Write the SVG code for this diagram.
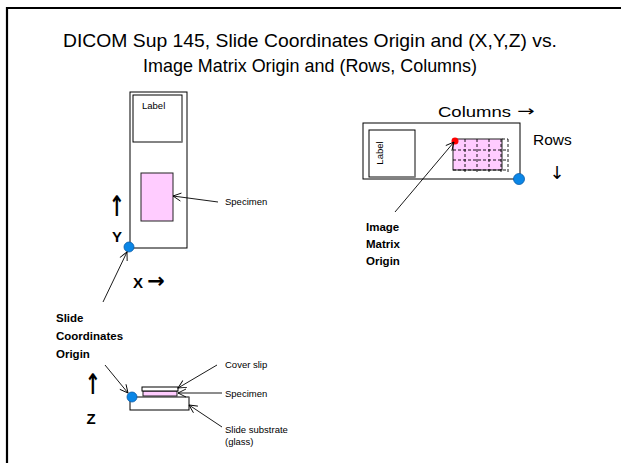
<svg xmlns="http://www.w3.org/2000/svg" width="621" height="463" viewBox="0 0 621 463">
<defs>
<marker id="open" markerWidth="10" markerHeight="10" refX="9" refY="5" orient="auto" markerUnits="userSpaceOnUse">
<path d="M1,1 L9,5 L1,9" fill="none" stroke="#000" stroke-width="0.9"/>
</marker>
<style>
.t{font-family:"Liberation Sans",Arial,sans-serif;fill:#000}
.ar{font-family:"DejaVu Sans",sans-serif;fill:#000}
.s{font-size:9.5px}
.b{font-size:11.5px;font-weight:bold}
.ax{font-size:15px;font-weight:bold}
.r{font-size:15.5px}
.ti{font-family:"Liberation Sans",Arial,sans-serif;font-size:18.5px;fill:#000}
.box{fill:#fff;stroke:#000;stroke-width:1}
.pink{fill:#ffccff;stroke:#222;stroke-width:1}
.dot{fill:#0a86e6;stroke:#0a5ca8;stroke-width:0.8}
.dash{stroke:#000;stroke-width:0.9;stroke-dasharray:3,2;fill:none}
.con{stroke:#000;stroke-width:0.9;fill:none;marker-end:url(#open)}
</style>
</defs>
<rect x="0" y="0" width="621" height="463" fill="#fff"/>
<path d="M7,463 L7,8 L621,8" fill="none" stroke="#000" stroke-width="2.2"/>
<g id="title">
<text class="ti" x="310" y="47" text-anchor="middle" textLength="494" lengthAdjust="spacingAndGlyphs">DICOM Sup 145, Slide Coordinates Origin and (X,Y,Z) vs.</text>
<text class="ti" x="310" y="72" text-anchor="middle" textLength="334" lengthAdjust="spacingAndGlyphs">Image Matrix Origin and (Rows, Columns)</text>
</g>
<g id="slide-top">
<rect class="box" x="130" y="92" width="57" height="156"/>
<rect x="133" y="95" width="49" height="47" fill="#fff" stroke="#000" stroke-width="1"/>
<path d="M182,96 L182,142 L134,142" fill="none" stroke="#888" stroke-width="1.2"/>
<text class="t s" x="142" y="109">Label</text>
<rect class="pink" x="141" y="173" width="32" height="48"/>
</g>
<g id="slide-origin">
<circle class="dot" cx="129" cy="247" r="5"/>
</g>
<g id="y-axis">
<text class="ar" x="0" y="0" text-anchor="middle" font-size="19" font-weight="bold" transform="translate(117,216) scale(1,1.5)">↑</text>
<text class="t ax" x="117" y="242" text-anchor="middle">Y</text>
</g>
<g id="x-axis">
<text class="t ax" x="133" y="288">X <tspan class="ar" font-size="21" font-weight="bold">→</tspan></text>
</g>
<g id="specimen-label">
<text class="t s" x="225" y="205">Specimen</text>
</g>
<g id="slide-origin-label">
<text class="t b" x="56" y="322">Slide</text>
<text class="t b" x="56" y="340">Coordinates</text>
<text class="t b" x="56" y="358">Origin</text>
</g>
<g id="cross-section">
<rect class="box" x="130" y="397" width="59" height="13"/>
<path d="M130,397 L189,397" stroke="#888" stroke-width="1.2"/>
<rect class="pink" x="143" y="391" width="34" height="5"/>
<rect class="box" x="142" y="387" width="36" height="4"/>
<circle class="dot" cx="132" cy="397" r="5"/>
</g>
<g id="z-axis">
<text class="ar" x="0" y="0" text-anchor="middle" font-size="19" font-weight="bold" transform="translate(93,394) scale(1,1.5)">↑</text>
<text class="t ax" x="91" y="424" text-anchor="middle">Z</text>
</g>
<g id="cross-labels">
<text class="t s" x="225" y="368">Cover slip</text>
<text class="t s" x="225" y="397">Specimen</text>
<text class="t s" x="225" y="433">Slide substrate</text>
<text class="t s" x="225" y="445">(glass)</text>
</g>
<g id="slide-right">
<rect class="box" x="363" y="123" width="157" height="56"/>
<rect x="369" y="130" width="46" height="47" fill="#fff" stroke="#000" stroke-width="1"/>
<path d="M415,131 L415,177 L370,177" fill="none" stroke="#888" stroke-width="1.2"/>
<text class="t s" x="0" y="0" text-anchor="middle" transform="translate(383,153) rotate(-90)">Label</text>
<rect class="pink" x="453" y="139" width="49" height="31" stroke-width="1.3"/>
<g class="dash">
<path d="M453,150 L508,150 M453,160 L508,160 M453,170 L508,170"/>
<path d="M465,139 L465,174 M477,139 L477,174 M489,139 L489,174 M501,139 L501,174 M508,139 L508,174"/>
<path d="M502,139 L508,139"/>
</g>
<circle cx="455" cy="141" r="3.5" fill="#ff0000"/>
<circle class="dot" cx="519" cy="179" r="5.5"/>
</g>
<g id="cols-rows">
<text class="t r" x="438" y="117" textLength="73" lengthAdjust="spacingAndGlyphs">Columns</text>
<text class="ar" x="0" y="0" font-size="15" transform="translate(517,116) scale(1.4,1)">→</text>
<text class="t r" x="533" y="145">Rows</text>
<text class="ar" x="557" y="179" text-anchor="middle" font-size="18">↓</text>
</g>
<g id="image-origin-label">
<text class="t b" x="366" y="231">Image</text>
<text class="t b" x="366" y="248">Matrix</text>
<text class="t b" x="366" y="265">Origin</text>
</g>
<g id="connectors">
<line class="con" x1="218" y1="202" x2="173" y2="196"/>
<line class="con" x1="103" y1="302" x2="127" y2="252"/>
<line class="con" x1="105" y1="365" x2="128" y2="393"/>
<line class="con" x1="217" y1="365" x2="178" y2="388"/>
<line class="con" x1="222" y1="393" x2="178" y2="393"/>
<line class="con" x1="222" y1="427" x2="189" y2="405"/>
<line class="con" x1="395" y1="212" x2="454" y2="142"/>
</g>
</svg>
